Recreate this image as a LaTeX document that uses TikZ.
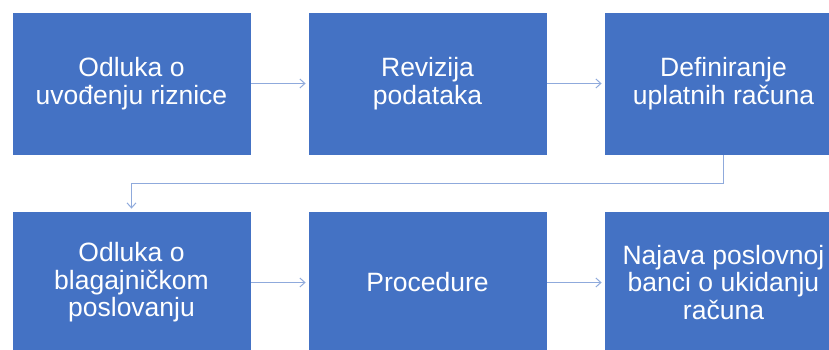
\documentclass[tikz,border=0pt]{standalone}
\usepackage{fontspec}
\setmainfont{Liberation Sans}
\usepackage{tikz}
\usetikzlibrary{arrows.meta}

\definecolor{kutija}{HTML}{4472C4}
\definecolor{strelica}{HTML}{8FAADC}

\tikzset{
  korak/.style={draw=white, line width=0.8pt, fill=kutija, text=white,
       minimum width=239pt, minimum height=143pt, inner sep=0pt,
       align=center, font=\fontsize{26.5pt}{27.5pt}\selectfont},
  veza/.style={draw=strelica, line width=1pt,
       -{Straight Barb[length=5pt,width=9pt]}, shorten >=2pt}
}

\begin{document}
\begin{tikzpicture}[x=1pt, y=-1pt]
\useasboundingbox (0,0) rectangle (829,350);
\clip (0,0) rectangle (829,350);

\node[korak] (odluka) at (131.5, 83.5) {Odluka o\\uvođenju riznice};
\node[korak] (revizija) at (427.5, 83.5) {Revizija\\podataka};
\node[korak] (definiranje) at (723.5, 83.5) {Definiranje\\uplatnih računa};

\node[korak] (blagajna) at (131.5, 282.5) {Odluka o\\blagajničkom\\poslovanju};
\node[korak] (procedure) at (427.5, 282.5) {Procedure};
\node[korak] (najava) at (723.5, 282.5) {Najava poslovnoj\\banci o ukidanju\\računa};

\draw[veza] (odluka) -- (revizija);
\draw[veza] (revizija) -- (definiranje);
\draw[veza] (definiranje.south) -- ++(0,28) -| (blagajna.north);
\draw[veza] (blagajna) -- (procedure);
\draw[veza] (procedure) -- (najava);
\end{tikzpicture}
\end{document}
